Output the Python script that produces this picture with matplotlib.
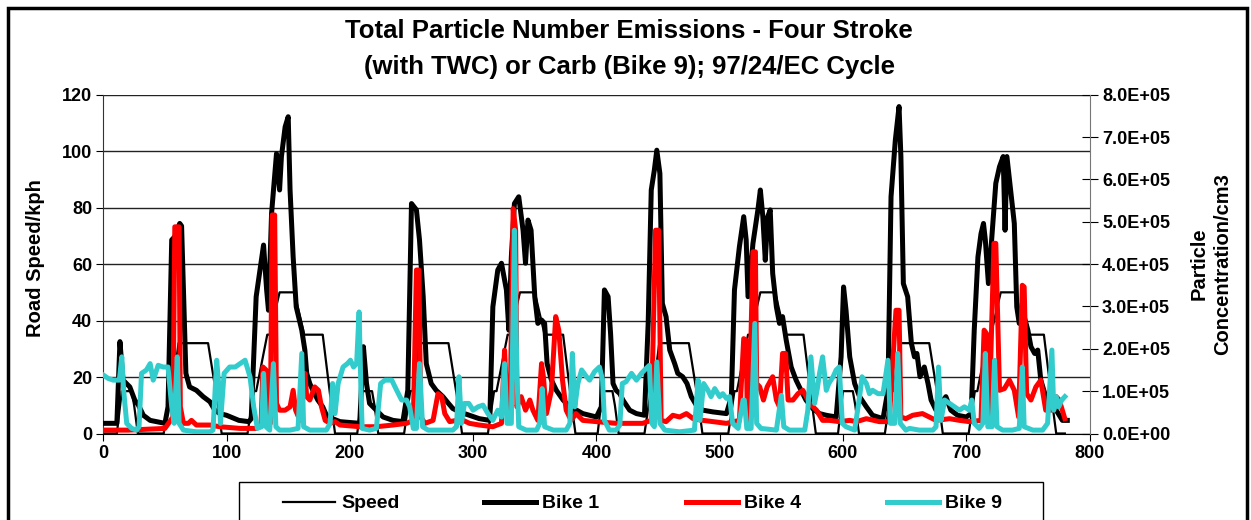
import numpy as np
import matplotlib
matplotlib.use("Agg")
import matplotlib.pyplot as plt
from matplotlib.patches import Rectangle
from matplotlib.lines import Line2D
from matplotlib.ticker import FuncFormatter

plt.rcParams['font.family'] = ['Liberation Sans', 'DejaVu Sans']
plt.rcParams['font.weight'] = 'bold'

# 97/24/EC cycle: one ECE urban segment (time s, speed kph), run four times
cycle_t = [0, 11, 15, 23, 25, 28, 49, 54, 56, 61, 85, 93, 96, 117, 122, 124,
           133, 135, 143, 155, 163, 176, 178, 185, 188, 195]
cycle_v = [0, 0, 15, 15, 10, 0, 0, 15, 15, 32, 32, 10, 0, 0, 15, 15,
           35, 35, 50, 50, 35, 35, 35, 10, 0, 0]
n_cycles = 4
cycle_len = 195

# particle concentration, units of 1e5 /cm3
bike1_t = [0, 11, 13.5, 16, 21.5, 25.5, 28.5, 32.5, 38, 43, 50, 52.5, 55.5, 58, 62, 63.5, 67,
           70, 75.5, 81, 86.5, 90.5, 94.5, 100, 110, 118, 120, 124, 130, 132.5, 134, 136.5,
           140.5, 143, 144.5, 147.5, 150, 151.5, 154, 156.5, 161, 163.5, 165, 167.5, 170,
           174, 178, 181, 186, 192, 208, 211, 213.5, 216, 221.5, 227, 235, 243, 247, 250,
           254, 256.5, 259.5, 262, 266, 270, 275.5, 280, 283.5, 289, 297, 305, 313.5, 316,
           320, 323, 327, 329, 331, 333.5, 337, 340.5, 342.5, 344.5, 347, 350, 352.5, 355.5,
           358, 360, 363.5, 367.5, 373, 378.5, 384, 389, 394.5, 400, 404, 406.5, 409.5,
           411.5, 413.5, 416, 419, 421.5, 427, 432.5, 439, 442, 444.5, 447, 449, 451.5,
           453.5, 456.5, 459.5, 463.5, 466, 470, 473.5, 477, 481, 486.5, 494.5, 505.5,
           509.5, 512, 516, 519.5, 521.5, 523, 527, 531, 533, 535, 537, 539, 541, 543, 546,
           548.5, 551, 554, 558, 562, 566, 570, 575.5, 581, 586.5, 594.5, 598.5, 600.5,
           602.5, 605.5, 609.5, 613.5, 619, 624, 632.5, 636.5, 639, 642.5, 645.5, 647, 649,
           652.5, 655.5, 658, 660, 662.5, 666, 669, 671.5, 675.5, 679.5, 683.5, 687.5, 693,
           700, 704, 706.5, 709.5, 712, 714, 715.5, 718, 721, 724, 727, 730, 731.5, 733,
           736, 739, 741, 743, 747, 750, 752.5, 755.5, 758, 760.5, 764.5, 769, 773, 778, 782]
bike1_v = [0.24, 0.24, 2.17, 1.26, 1.10, 0.79, 0.67, 0.43, 0.31, 0.28, 0.24, 0.63, 4.57, 4.65,
           4.96, 4.90, 1.42, 1.10, 1.02, 0.87, 0.75, 0.55, 0.47, 0.43, 0.31, 0.28, 0.35, 3.23,
           4.45, 3.39, 2.91, 5.20, 6.61, 5.75, 6.54, 7.24, 7.48, 5.75, 4.17, 2.99, 2.44, 1.97,
           1.42, 1.18, 1.02, 0.79, 0.63, 0.43, 0.35, 0.28, 0.24, 2.05, 1.18, 0.71, 0.55, 0.39,
           0.31, 0.28, 1.02, 5.43, 5.28, 4.57, 3.23, 1.65, 1.18, 1.02, 0.87, 0.71, 0.59, 0.51,
           0.43, 0.35, 0.31, 2.99, 3.86, 4.02, 3.39, 2.44, 4.17, 5.43, 5.59, 4.80, 4.02, 5.04,
           4.80, 3.23, 2.60, 2.68, 2.60, 1.65, 1.26, 1.02, 0.79, 0.63, 0.55, 0.47, 0.43, 0.39,
           0.63, 3.39, 3.23, 2.36, 1.18, 1.02, 0.94, 0.79, 0.55, 0.47, 0.43, 2.60, 5.75, 6.22,
           6.69, 6.14, 3.07, 2.76, 1.97, 1.65, 1.42, 1.34, 1.18, 0.87, 0.67, 0.55, 0.51, 0.47,
           0.87, 3.39, 4.41, 5.12, 4.57, 3.23, 4.49, 5.28, 5.75, 5.12, 4.09, 5.12, 5.28, 3.78,
           2.99, 2.60, 2.76, 2.20, 1.57, 1.26, 1.02, 0.79, 0.59, 0.47, 0.43, 0.39, 1.81, 3.46,
           2.91, 1.81, 1.18, 0.87, 0.63, 0.43, 0.35, 1.02, 5.59, 6.93, 7.72, 6.54, 3.54, 3.23,
           2.13, 1.81, 1.89, 1.34, 1.57, 1.18, 0.79, 0.55, 0.71, 0.87, 0.55, 0.43, 0.39, 0.47,
           2.44, 4.17, 4.72, 4.96, 4.57, 3.54, 4.72, 5.91, 6.30, 6.54, 4.80, 6.54, 5.75, 4.96,
           2.99, 2.60, 2.76, 2.44, 2.05, 1.89, 1.97, 1.26, 0.87, 0.63, 0.55, 0.31, 0.31]

bike4_t = [0, 20, 50, 56.5, 58, 61.5, 62.5, 65, 69, 71.5, 75.5, 86.5, 94.5, 111, 124, 128, 129.5,
           132, 133, 135.5, 137, 139, 140.5, 143, 147.5, 151.5, 154, 156, 159.5, 163.5, 165,
           167.5, 171.5, 174.5, 177, 180, 184, 188, 192, 208, 221.5, 235, 246, 251.5, 254, 256,
           257.5, 261, 267.5, 271.5, 274.5, 277, 281, 286.5, 292, 297, 305, 316, 323, 325.5,
           327.5, 330, 332.5, 334.5, 335.5, 339, 342.5, 346, 348.5, 352.5, 355.5, 357, 359.5,
           363.5, 367, 369.5, 372.5, 375.5, 379.5, 383.5, 389, 400, 416, 437.5, 444.5, 448,
           450.5, 452.5, 456.5, 462, 467.5, 473, 478.5, 486.5, 494.5, 505.5, 516, 519.5, 521.5,
           522.5, 524, 527, 529, 530, 532.5, 535.5, 538.5, 543, 546, 548.5, 551, 553.5, 555.5,
           559.5, 563.5, 567.5, 573, 578.5, 583.5, 589, 597, 605.5, 611, 619, 629.5, 637.5,
           643, 645.5, 647, 651, 656.5, 664.5, 670, 675.5, 686.5, 694.5, 702.5, 712, 714.5,
           716.5, 718.5, 722.5, 724, 727, 731, 735, 739, 742.5, 745.5, 747, 749, 752.5, 756.5,
           760.5, 764.5, 769, 773, 775.5, 780]
bike4_v = [0.08, 0.08, 0.12, 0.39, 4.88, 4.88, 0.63, 0.24, 0.24, 0.31, 0.20, 0.20, 0.16, 0.12,
           0.12, 0.24, 1.57, 1.50, 0.24, 0.24, 5.16, 5.16, 0.71, 0.55, 0.55, 0.63, 1.02, 0.55,
           0.31, 1.42, 0.87, 0.79, 1.10, 1.02, 0.63, 0.31, 0.24, 0.28, 0.20, 0.16, 0.16, 0.20,
           0.24, 0.31, 3.86, 3.86, 0.39, 0.24, 0.31, 0.94, 0.87, 0.47, 0.28, 0.31, 0.31, 0.24,
           0.20, 0.16, 0.24, 1.97, 0.63, 0.55, 5.31, 4.80, 0.63, 0.87, 0.55, 0.79, 0.55, 0.31,
           1.65, 1.34, 0.47, 1.02, 2.76, 2.44, 1.26, 0.55, 0.31, 0.47, 0.31, 0.28, 0.24, 0.24,
           0.31, 4.80, 4.80, 0.31, 0.28, 0.43, 0.39, 0.47, 0.35, 0.31, 0.28, 0.24, 0.31, 2.24,
           2.20, 0.31, 0.55, 4.29, 4.29, 1.18, 1.10, 0.79, 1.10, 1.34, 0.79, 0.63, 1.89, 1.89,
           0.79, 0.79, 0.94, 1.02, 0.71, 0.55, 0.31, 0.31, 0.28, 0.31, 0.28, 0.35, 0.28, 0.28,
           2.91, 2.91, 0.39, 0.35, 0.43, 0.47, 0.39, 0.31, 0.35, 0.31, 0.28, 0.31, 2.44, 2.36,
           0.31, 4.49, 4.49, 1.02, 1.06, 1.26, 1.02, 0.39, 3.50, 3.46, 0.94, 0.79, 1.10, 1.26,
           0.55, 0.55, 0.87, 0.79, 0.35]

bike9_t = [0, 4, 8, 13, 15, 16.5, 19, 23, 27, 29, 31, 35, 38, 40.5, 44.5, 48.5, 52.5, 55.5, 57.5,
           60, 61.5, 65, 75.5, 86.5, 89, 92, 94, 95, 98, 102.5, 107, 111, 115, 119, 122, 125,
           128.5, 130, 132, 135, 138, 140, 143, 151.5, 158, 161, 162.5, 167.5, 181, 184, 186,
           188, 190.5, 194.5, 198, 200.5, 203, 205.5, 207.5, 209, 210, 216, 221.5, 225, 228.5,
           234, 238, 242, 246, 248.5, 251.5, 254, 256.5, 259, 263.5, 283.5, 286.5, 288.5,
           290.5, 293, 296.5, 300, 304, 308, 312, 316, 320, 323, 325.5, 327.5, 331, 333.5,
           335.5, 337, 343, 351.5, 354, 356, 358, 365, 375.5, 378.5, 380.5, 382.5, 385, 388,
           392, 394.5, 398.5, 402.5, 405, 406.5, 410.5, 416, 419, 421, 424, 428.5, 432.5,
           436.5, 440.5, 443, 445, 447, 449, 451.5, 455.5, 467.5, 479.5, 482.5, 484, 487,
           490.5, 493, 496, 500, 502.5, 505.5, 508, 510.5, 515, 519, 520, 522, 525.5, 528.5,
           530, 533.5, 546, 550, 552, 556.5, 569, 571.5, 574, 577, 579, 581, 583.5, 586.5,
           588.5, 592, 594.5, 597, 599.5, 602.5, 609.5, 613.5, 615.5, 619, 621.5, 624, 628.5,
           632.5, 636.5, 638.5, 642, 644.5, 646.5, 651, 654, 662, 673, 675.5, 677.5, 679.5,
           682.5, 686.5, 690.5, 694.5, 698.5, 702.5, 704.5, 706.5, 710.5, 713.5, 715.5, 717.5,
           721, 723, 725, 729.5, 737.5, 743, 745.5, 747, 754, 762, 766, 769.5, 771, 773, 775,
           777.5, 780]
bike9_v = [1.38, 1.30, 1.26, 1.26, 1.81, 1.02, 0.24, 0.12, 0.08, 0.16, 1.42, 1.50, 1.65, 1.26,
           1.61, 1.57, 1.57, 0.63, 0.24, 1.81, 0.24, 0.08, 0.04, 0.04, 0.08, 1.73, 1.02, 0.24,
           1.42, 1.57, 1.57, 1.65, 1.73, 1.34, 0.63, 0.12, 0.16, 1.42, 0.16, 0.08, 1.65, 0.16,
           0.08, 0.08, 0.12, 1.89, 0.16, 0.08, 0.08, 0.24, 1.18, 0.47, 1.18, 1.57, 1.65, 1.73,
           1.57, 1.65, 2.87, 1.02, 0.12, 0.08, 0.12, 1.18, 1.26, 1.26, 1.02, 0.79, 0.79, 0.63,
           0.12, 0.12, 1.65, 0.16, 0.08, 0.08, 0.16, 1.34, 0.24, 0.71, 0.71, 0.55, 0.63, 0.67,
           0.47, 0.31, 0.55, 0.39, 1.65, 0.24, 0.24, 4.80, 1.42, 0.16, 0.08, 0.08, 0.24, 1.06,
           0.16, 0.08, 0.08, 0.24, 1.89, 0.63, 1.18, 1.50, 1.34, 1.26, 1.46, 1.57, 1.26, 0.31,
           0.08, 0.08, 0.20, 1.18, 1.22, 1.42, 1.26, 1.42, 1.54, 1.61, 0.24, 0.16, 1.69, 0.24,
           0.08, 0.04, 0.08, 1.26, 0.31, 1.18, 1.02, 0.87, 1.06, 0.87, 0.94, 0.83, 0.87, 0.24,
           0.12, 0.79, 0.79, 0.12, 0.12, 2.60, 0.24, 0.12, 0.08, 0.90, 0.16, 0.08, 0.08, 0.55,
           1.81, 0.71, 1.02, 1.42, 1.81, 1.02, 1.18, 1.34, 1.50, 1.57, 0.24, 0.16, 0.08, 0.87,
           1.34, 1.18, 0.94, 1.02, 0.94, 0.94, 1.73, 0.24, 0.24, 1.89, 0.24, 0.08, 0.12, 0.08,
           0.08, 0.16, 1.57, 0.31, 0.79, 0.71, 0.63, 0.55, 0.63, 0.55, 0.79, 0.24, 0.12, 0.24,
           1.89, 0.16, 0.16, 1.73, 0.16, 0.08, 0.08, 0.12, 1.57, 0.16, 0.08, 0.08, 0.24, 1.97,
           0.55, 0.87, 0.63, 0.79, 0.87]

xticks = list(range(0, 801, 100))
left_ticks = list(range(0, 121, 20))
right_ticks = [i * 1e5 for i in range(9)]

# build the full speed trace
speed_t = np.concatenate([np.array(cycle_t) + k * cycle_len for k in range(n_cycles)])
speed_v = np.tile(cycle_v, n_cycles)

W, H = 1251, 520
fig = plt.figure(figsize=(W / 100, H / 100), dpi=100)

# outer chart frame
fig.patches.append(Rectangle((8 / W, -0.05), (1247 - 8) / W, 1 - 8 / H + 0.05,
                             transform=fig.transFigure, fill=False, edgecolor='black', lw=2.5))

x0, x1 = 103.3 / W, 1089.5 / W
y0, y1 = 1 - 433.5 / H, 1 - 94.7 / H
ax = fig.add_axes([x0, y0, x1 - x0, y1 - y0])
ax2 = ax.twinx()

sp, = ax.plot(speed_t, speed_v, color='black', lw=1.6, label='Speed', zorder=2)
ax.set_xlim(0, 800)
ax.set_ylim(0, 120)
ax.set_xticks(xticks)
ax.set_yticks(left_ticks)
ax.grid(axis='y', color='#222222', lw=1)
ax.set_axisbelow(True)
ax.tick_params(axis='x', direction='out', length=5, labelsize=13, pad=3)
ax.tick_params(axis='y', direction='out', length=5, labelsize=13, pad=3)
for s in ['top', 'right']:
    ax.spines[s].set_visible(False)
ax.spines['left'].set_color('#333333')
ax.spines['bottom'].set_color('black')

l1, = ax2.plot(bike1_t, np.array(bike1_v) * 1e5, color='black', lw=3.6, label='Bike 1', zorder=3)
l4, = ax2.plot(bike4_t, np.array(bike4_v) * 1e5, color='#ff0000', lw=3.6, label='Bike 4', zorder=4)
l9, = ax2.plot(bike9_t, np.array(bike9_v) * 1e5, color='#33cccc', lw=3.6, label='Bike 9', zorder=5)
ax2.set_ylim(0, 8e5)
ax2.set_yticks(right_ticks)
ax2.yaxis.set_major_formatter(FuncFormatter(lambda v, p: f"{v:.1E}"))
ax2.tick_params(axis='y', direction='inout', length=12, labelsize=13, pad=3)
for s in ['top', 'left', 'bottom']:
    ax2.spines[s].set_visible(False)
ax2.spines['right'].set_color('#777777')

for lab in ax.get_xticklabels() + ax.get_yticklabels() + ax2.get_yticklabels():
    lab.set_fontweight('bold')

# axis titles
fig.text(36 / W, 1 - 258 / H, 'Road Speed/kph', rotation=90, ha='center', va='center',
         fontsize=14.5, fontweight='bold')
fig.text(1211 / W, 1 - 264 / H, 'Particle\nConcentration/cm3', rotation=90, ha='center',
         va='center', fontsize=14.5, fontweight='bold', linespacing=1.3, multialignment='center')

fig.text(629 / W, 1 - 31 / H, 'Total Particle Number Emissions - Four Stroke',
         ha='center', va='center', fontsize=18.5, fontweight='bold')
fig.text(629 / W, 1 - 67 / H, '(with TWC) or Carb (Bike 9); 97/24/EC Cycle',
         ha='center', va='center', fontsize=18.5, fontweight='bold')

# legend box drawn in figure space
fig.patches.append(Rectangle((239 / W, -0.05), (1043 - 239) / W, 1 - 482 / H + 0.05,
                             transform=fig.transFigure, fill=False, edgecolor='black', lw=1.0))
legend_x = [283, 484, 686, 887]
for h, lx in zip([sp, l1, l4, l9], legend_x):
    fig.add_artist(Line2D([lx / W, (lx + 52) / W], [1 - 502 / H] * 2, transform=fig.transFigure,
                          color=h.get_color(), lw=h.get_linewidth()))
    fig.text((lx + 58) / W, 1 - 503 / H, h.get_label(), ha='left', va='center',
             fontsize=14, fontweight='bold')

fig.savefig('out.png', dpi=100)
